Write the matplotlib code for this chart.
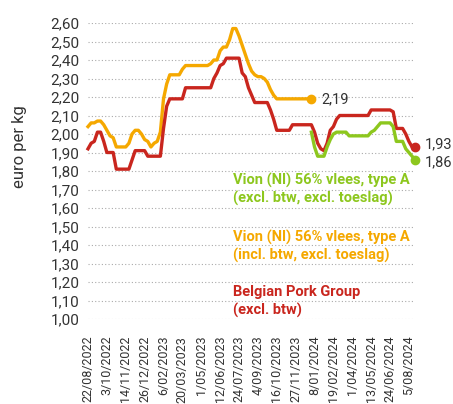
import pandas as pd
import matplotlib.pyplot as plt

# weekly noteringen vanaf 22/08/2022
weeks = pd.date_range('2022-08-22', periods=105, freq='7D')

belgian_pork = [1.92, 1.95, 1.96, 2.01, 2.01, 1.96, 1.90, 1.90, 1.90, 1.81,
                1.81, 1.81, 1.81, 1.81, 1.86, 1.91, 1.91, 1.91, 1.91, 1.88,
                1.88, 1.88, 1.88, 1.88, 2.03, 2.15, 2.19, 2.19, 2.19, 2.19,
                2.19, 2.25, 2.25, 2.25, 2.25, 2.25, 2.25, 2.25, 2.25, 2.25,
                2.30, 2.33, 2.37, 2.38, 2.41, 2.41, 2.41, 2.41, 2.41, 2.33,
                2.31, 2.25, 2.21, 2.17, 2.17, 2.17, 2.17, 2.17, 2.13, 2.08,
                2.02, 2.02, 2.02, 2.02, 2.02, 2.05, 2.05, 2.05, 2.05, 2.05,
                2.05, 2.05, 2.01, 1.95, 1.92, 1.91, 1.95, 2.02, 2.04, 2.08,
                2.10, 2.10, 2.10, 2.10, 2.10, 2.10, 2.10, 2.10, 2.10, 2.10,
                2.13, 2.13, 2.13, 2.13, 2.13, 2.13, 2.13, 2.12, 2.03, 2.03,
                2.03, 2.00, 1.96, 1.93, 1.93]

vion_incl = [2.04, 2.06, 2.06, 2.07, 2.07, 2.05, 2.02, 1.99, 1.98, 1.93,
             1.93, 1.93, 1.93, 1.95, 2.00, 2.02, 2.02, 2.00, 1.97, 1.96,
             1.93, 1.95, 1.96, 2.01, 2.19, 2.27, 2.32, 2.32, 2.32, 2.32,
             2.35, 2.37, 2.37, 2.37, 2.37, 2.37, 2.37, 2.37, 2.37, 2.38,
             2.40, 2.40, 2.45, 2.47, 2.47, 2.51, 2.57, 2.57, 2.53, 2.48,
             2.43, 2.38, 2.34, 2.32, 2.31, 2.31, 2.30, 2.28, 2.24, 2.21,
             2.19, 2.19, 2.19, 2.19, 2.19, 2.19, 2.19, 2.19, 2.19, 2.19,
             2.19, 2.19]

# excl. btw, loopt vanaf week 71
vion_excl = [2.01, 1.93, 1.88, 1.88, 1.88, 1.93, 1.97, 2.00, 2.01, 2.01,
             2.01, 2.01, 1.99, 1.99, 1.99, 1.99, 1.99, 1.99, 1.99, 2.01,
             2.02, 2.04, 2.06, 2.06, 2.06, 2.06, 2.04, 1.96, 1.96, 1.96,
             1.92, 1.90, 1.88, 1.86]

tick_labels = ['22/08/2022', '3/10/2022', '14/11/2022', '26/12/2022', '6/02/2023',
               '20/03/2023', '1/05/2023', '12/06/2023', '24/07/2023', '4/09/2023',
               '16/10/2023', '27/11/2023', '8/01/2024', '19/02/2024', '1/04/2024',
               '13/05/2024', '24/06/2024', '5/08/2024']
y_ticks = [1.0, 1.1, 1.2, 1.3, 1.4, 1.5, 1.6, 1.7, 1.8, 1.9, 2.0,
           2.1, 2.2, 2.3, 2.4, 2.5, 2.6]

red = '#c9261e'
yellow = '#f5a800'
green = '#8dc71e'
grey = '#333333'

plt.rcParams['font.family'] = ['Roboto', 'DejaVu Sans']

fig = plt.figure(figsize=(4.53, 4.04), dpi=100)
ax = fig.add_axes([88 / 453, 85 / 404, 325 / 453, 296 / 404])

x_red = weeks
x_incl = weeks[:len(vion_incl)]
x_excl = weeks[104 - len(vion_excl) + 1:]

ax.plot(x_incl, vion_incl, color=yellow, lw=2.4, solid_joinstyle='round', clip_on=False)
ax.plot(x_red, belgian_pork, color=red, lw=2.4, solid_joinstyle='round', clip_on=False)
ax.plot(x_excl, vion_excl, color=green, lw=2.4, solid_joinstyle='round', clip_on=False)

ax.plot(x_incl[-1], vion_incl[-1], 'o', color=yellow, ms=6, clip_on=False)
ax.plot(x_red[-1], belgian_pork[-1], 'o', color=red, ms=6, clip_on=False)
ax.plot(x_excl[-1], vion_excl[-1], 'o', color=green, ms=6, clip_on=False)

ax.annotate('2,19', (x_incl[-1], vion_incl[-1]), xytext=(7, 0), textcoords='offset points',
            va='center', fontsize=10.5, color=grey)
ax.annotate('1,93', (x_red[-1], belgian_pork[-1]), xytext=(7, 2), textcoords='offset points',
            va='center', fontsize=10.5, color=grey, annotation_clip=False)
ax.annotate('1,86', (x_excl[-1], vion_excl[-1]), xytext=(7, -2), textcoords='offset points',
            va='center', fontsize=10.5, color=grey, annotation_clip=False)

step = (weeks[104] - weeks[0]) / 104
ax.set_xlim(weeks[0] + step * 0.16, weeks[0] + step * 103.3)
ax.set_ylim(1.0, 2.6)
ax.set_yticks(y_ticks)
ax.set_yticklabels([f'{v:.2f}'.replace('.', ',') for v in y_ticks], fontsize=11, color=grey)
ax.set_xticks(weeks[::6])
ax.set_xticklabels(tick_labels, rotation=90, fontsize=9, color=grey)
ax.tick_params(length=0, pad=6)
ax.tick_params(axis='x', pad=12)
for s in ax.spines.values():
    s.set_visible(False)
ax.grid(axis='y', linestyle=(0, (1, 2)), color='#aaaaaa', lw=0.8)
ax.set_axisbelow(True)

fig.text(20 / 453, 1 - 147 / 404, 'euro per kg', rotation=90, ha='center', va='center',
         fontsize=12, color=grey)

labels = [
    (180, 'Vion (Nl) 56% vlees, type A', green),
    (198, '(excl. btw, excl. toeslag)', green),
    (237, 'Vion (Nl) 56% vlees, type A', yellow),
    (255, '(incl. btw, excl. toeslag)', yellow),
    (292, 'Belgian Pork Group', red),
    (310, '(excl. btw)', red),
]
for yy, txt, col in labels:
    fig.text(233 / 453, 1 - yy / 404, txt, ha='left', va='center', fontsize=10.5,
             fontweight='bold', color=col)

plt.savefig('out.png', dpi=100)
